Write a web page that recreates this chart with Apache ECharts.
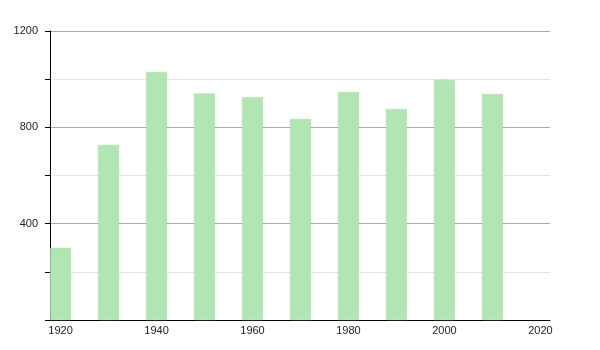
<!DOCTYPE html>
<html>
<head>
<meta charset="utf-8">
<script src="https://cdn.jsdelivr.net/npm/echarts@6/dist/echarts.min.js"></script>
<style>html,body{margin:0;padding:0;background:#fff}#c{width:600px;height:350px}</style>
</head>
<body>
<div id="c"></div>
<script>
const years = [1920, 1930, 1940, 1950, 1960, 1970, 1980, 1990, 2000, 2010];
const values = [300, 727, 1030, 941, 925, 835, 947, 876, 997, 938];
const xTickLabels = [1920, 1940, 1960, 1980, 2000, 2020];
const yTickLabels = [400, 800, 1200];

const chart = echarts.init(document.getElementById('c'), null, {renderer: 'canvas'});
chart.setOption({
  animation: false,
  backgroundColor: '#fff',
  grid: {left: 50, right: 50, top: 31, bottom: 30, containLabel: false},
  xAxis: {
    type: 'value',
    min: 1917.8,
    max: 2022,
    axisLine: {show: true, lineStyle: {color: '#000', width: 1}},
    axisTick: {show: false},
    splitLine: {show: false},
    axisLabel: {
      customValues: xTickLabels,
      color: '#222',
      fontSize: 11,
      fontFamily: 'Liberation Sans, Arial, sans-serif',
      margin: 5,
      formatter: v => String(v)
    }
  },
  yAxis: {
    type: 'value',
    min: 0,
    max: 1200,
    interval: 200,
    axisLine: {show: true, lineStyle: {color: '#000', width: 1}},
    axisTick: {show: true, length: 5, lineStyle: {color: '#000'}},
    splitLine: {show: true, lineStyle: {color: ['#aaaaaa', '#e4e4e4'], width: 1}},
    axisLabel: {
      color: '#222',
      fontSize: 11,
      fontFamily: 'Liberation Sans, Arial, sans-serif',
      margin: 12,
      formatter: v => (yTickLabels.indexOf(v) >= 0 ? String(v) : '')
    }
  },
  series: [{
    type: 'bar',
    data: years.map((y, i) => [y, values[i]]),
    barWidth: 21,
    itemStyle: {color: '#b1e5b1', borderColor: '#a8dca8', borderWidth: 0.5}
  }]
});
</script>
</body>
</html>
